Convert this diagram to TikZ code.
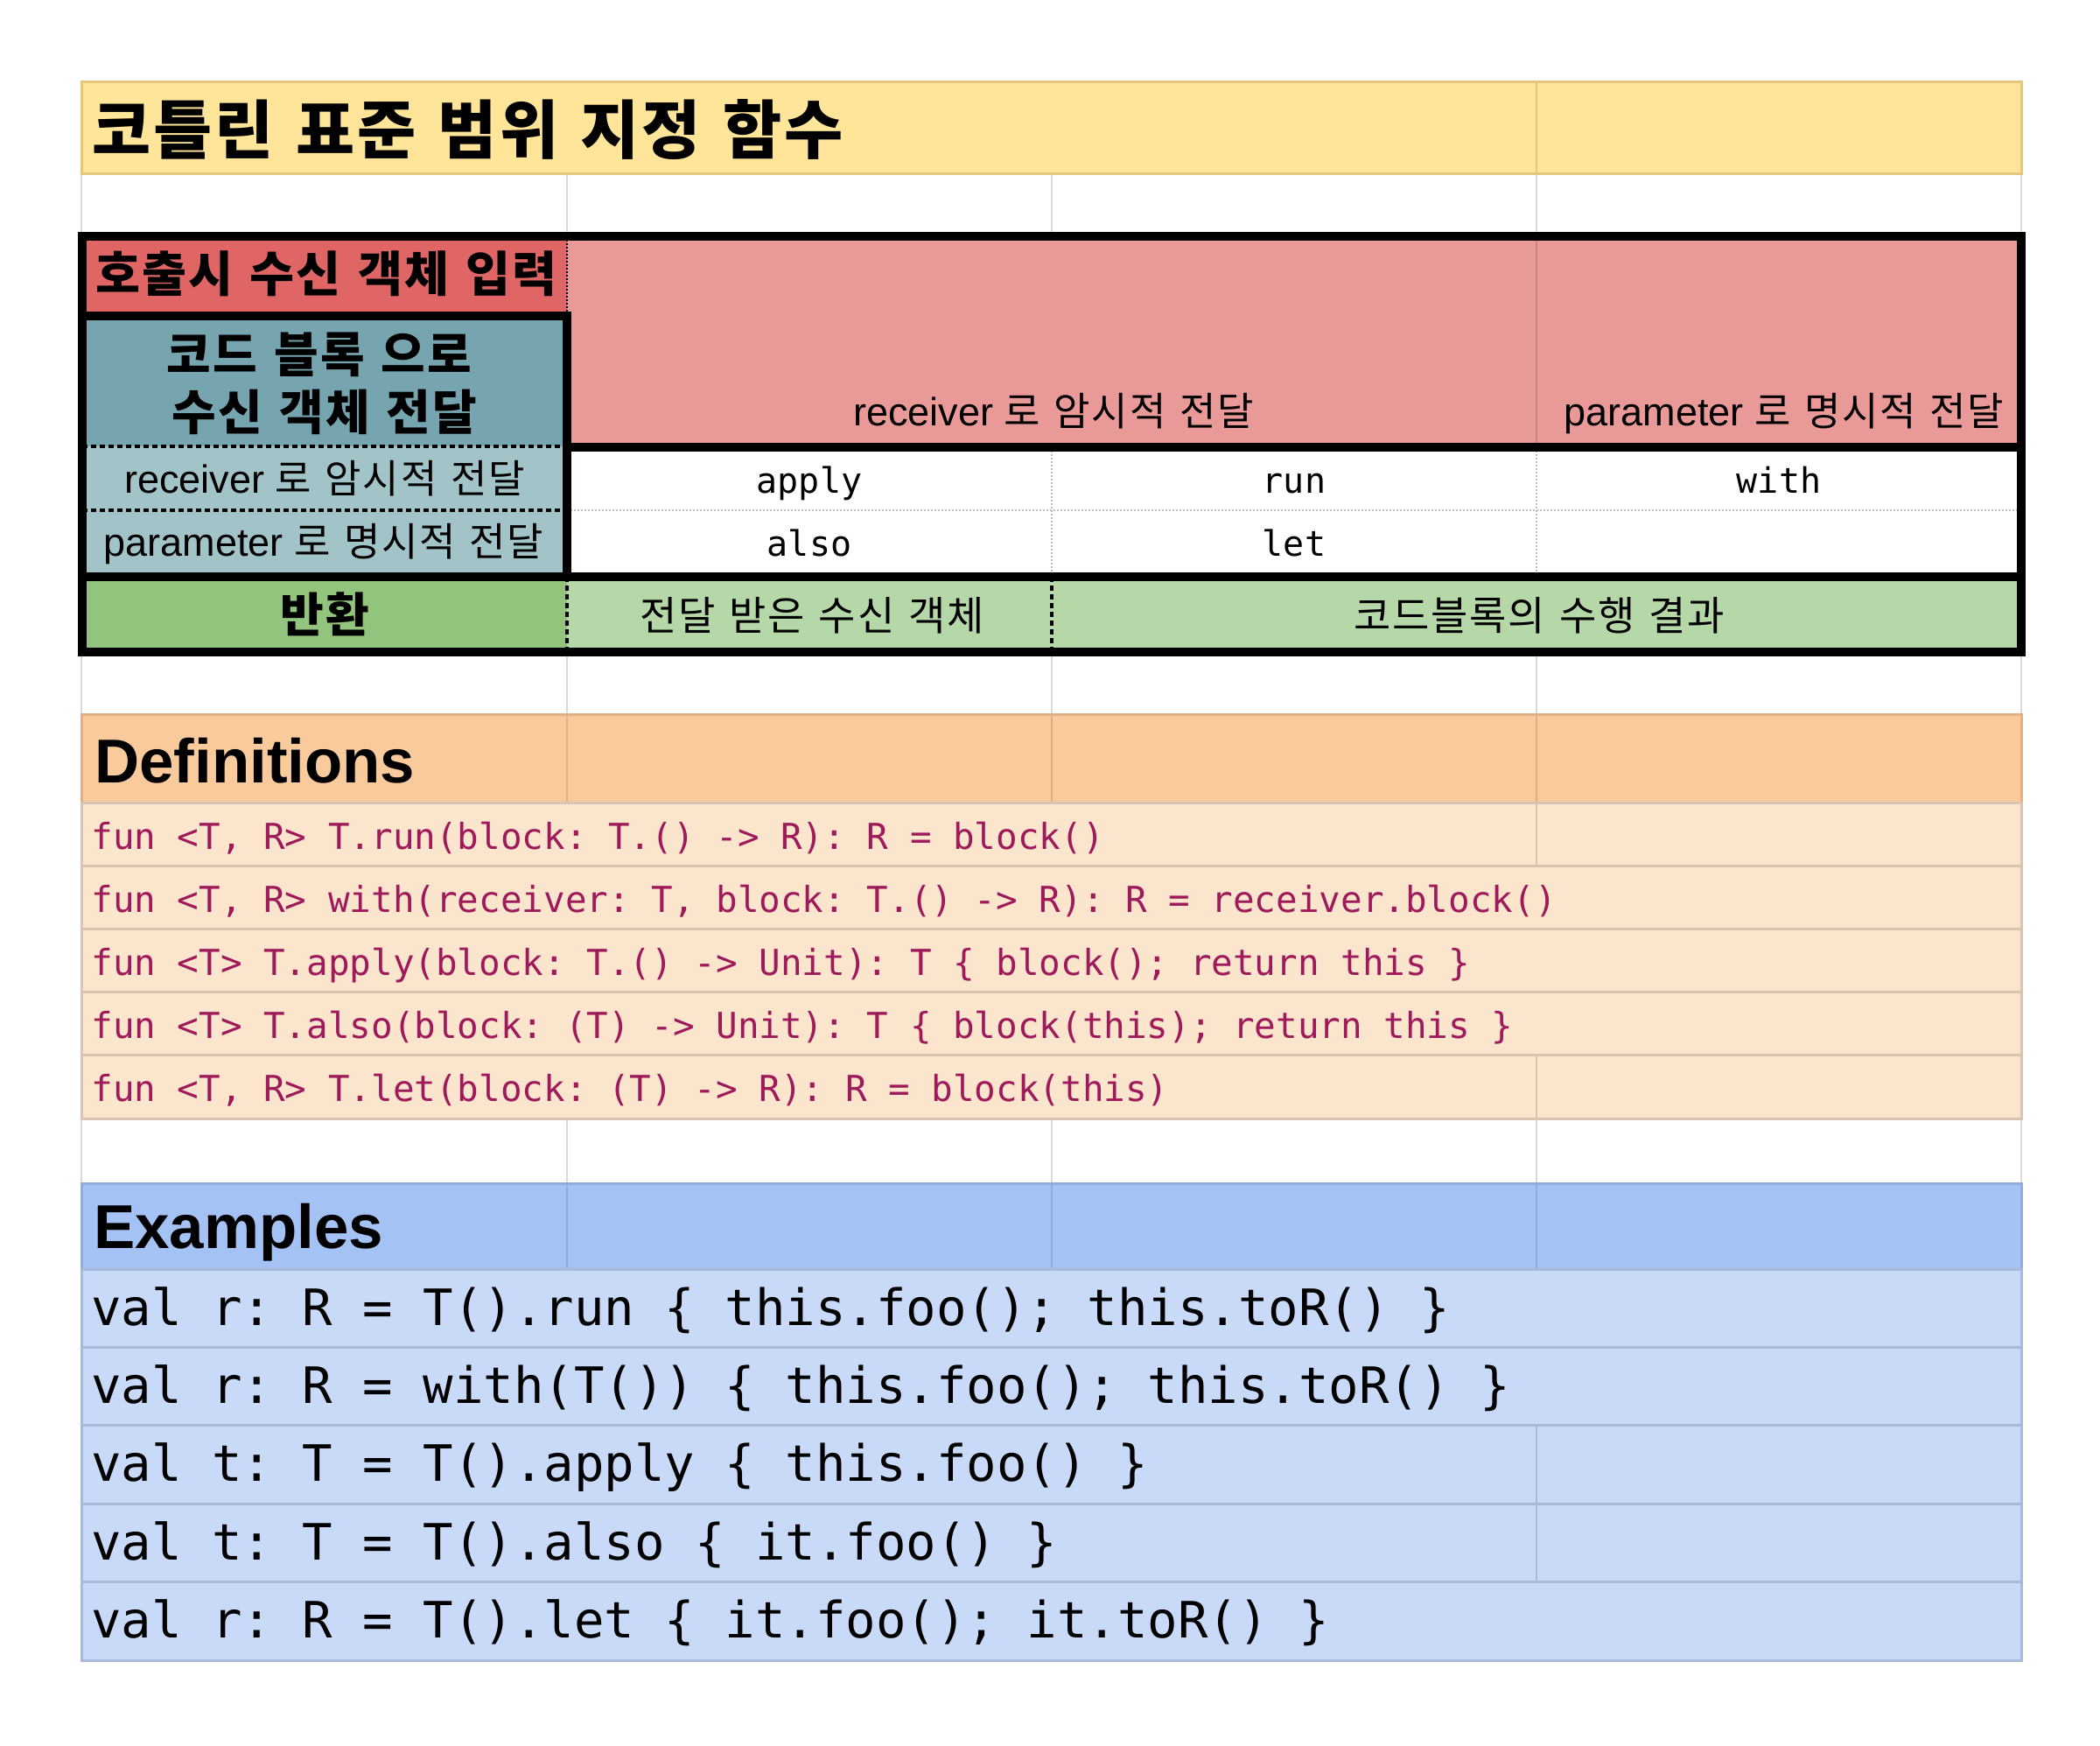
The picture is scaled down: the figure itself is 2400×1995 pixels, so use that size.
\documentclass[tikz,border=0pt]{standalone}
\usepackage{fontspec}
\setmainfont{Liberation Sans}
\setmonofont{DejaVu Sans Mono}
\newfontfamily\kr{Noto Sans CJK KR}[LetterSpace=4,WordSpace=1.3]
\newcommand\fsz[1]{\fontsize{#1}{#1}\selectfont}
\definecolor{titleY}{HTML}{FFE599}
\definecolor{titleB}{HTML}{E5C77C}
\definecolor{redA}{HTML}{E06666}
\definecolor{pinkA}{HTML}{EA9999}
\definecolor{pinkL}{HTML}{C98585}
\definecolor{tealA}{HTML}{76A5AF}
\definecolor{tealB}{HTML}{A2C4C9}
\definecolor{greenA}{HTML}{93C47D}
\definecolor{greenB}{HTML}{B6D7A8}
\definecolor{orangeA}{HTML}{F9CB9C}
\definecolor{orangeB}{HTML}{DFAF86}
\definecolor{orangeC}{HTML}{FCE5CD}
\definecolor{orangeL}{HTML}{D8C4B2}
\definecolor{blueA}{HTML}{A4C2F4}
\definecolor{blueB}{HTML}{8FACDB}
\definecolor{blueC}{HTML}{C9DAF8}
\definecolor{blueL}{HTML}{A9B9D8}
\definecolor{gridgray}{HTML}{DADADA}
\definecolor{dotgray}{HTML}{BDBDBD}
\definecolor{codeRed}{HTML}{9E1A5A}

\begin{document}
\begin{tikzpicture}[x=0.5pt, y=-0.5pt,
  txt/.style={inner sep=0pt, anchor=base},
  ltxt/.style={inner sep=0pt, anchor=base west},
  gridline/.style={gridgray, line width=1pt},
  heavy/.style={black, line width=5pt},
  finedots/.style={black, line width=1pt, dash pattern=on 1pt off 1pt},
  blackdash/.style={black, line width=1.6pt, dash pattern=on 3pt off 2pt},
  graydots/.style={dotgray, line width=1pt, dash pattern=on 1pt off 1pt}]
\fill[white] (0,0) rectangle (2400,1995);

\foreach \ya/\yb in {199/270, 745/816, 1278/1352}
  \foreach \x in {93,648,1202,1756,2310}
    \draw[gridline] (\x,\ya) -- (\x,\yb);

% title
\filldraw[fill=titleY, draw=titleB, line width=1.5pt] (93,94) rectangle (2310,199);
\draw[titleB, line width=1pt] (1756,94) -- (1756,199);
\node[ltxt, font=\kr\bfseries\fsz{36.5}] (title) at (105,176) {코틀린 표준 범위 지정 함수};

% scope table
\fill[redA] (94,270) rectangle (648,361);
\fill[pinkA] (648,270) rectangle (2310,511);
\fill[tealA] (94,361) rectangle (648,510);
\fill[tealB] (94,510) rectangle (648,659);
\fill[white] (648,511) rectangle (2310,659);
\fill[greenA] (94,659) rectangle (648,745);
\fill[greenB] (648,659) rectangle (2310,745);
\draw[pinkL, line width=1pt] (1756,270) -- (1756,511);
\draw[finedots] (648,270) -- (648,361);
\foreach \y in {510,583} \draw[blackdash] (94,\y) -- (648,\y);
\draw[graydots] (648,583) -- (2310,583);
\foreach \x in {1202,1756} \draw[graydots] (\x,511) -- (\x,659);
\foreach \x in {648,1202} \draw[blackdash] (\x,659) -- (\x,745);
\draw[heavy] (94,270) rectangle (2310,745);
\draw[heavy] (94,361) -- (648,361) -- (648,659);
\draw[heavy] (648,511) -- (2310,511);
\draw[heavy] (94,659) -- (2310,659);

\node[txt, font=\kr\bfseries\fsz{27.7}] (input) at (373,334) {호출시 수신 객체 입력};
\node[txt, font=\kr\bfseries\fsz{27.5}] (block1) at (365,426) {코드 블록 으로};
\node[txt, font=\kr\bfseries\fsz{27.5}] (block2) at (371,492) {수신 객체 전달};
\node[txt, font=\fsz{22.5}] (implicitL) at (371,564) {receiver {\kr 로 암시적 전달}};
\node[txt, font=\fsz{22.5}] (explicitL) at (370,635) {parameter {\kr 로 명시적 전달}};
\node[txt, font=\fsz{22.5}] (implicitT) at (1204,487) {receiver {\kr 로 암시적 전달}};
\node[txt, font=\fsz{22.5}] (explicitT) at (2039,487) {parameter {\kr 로 명시적 전달}};
\foreach \n/\x/\y in {apply/925/564, run/1479/564, with/2033/564, also/925/635, let/1479/635}
  \node[txt, font=\ttfamily\fsz{20}] (\n) at (\x,\y) {\n};
\node[txt, font=\kr\bfseries\fsz{27}] (ret) at (371,722) {반환};
\node[txt, font=\kr\fsz{23}] (retobj) at (928,720) {전달 받은 수신 객체};
\node[txt, font=\kr\fsz{23}] (retres) at (1759,720) {코드블록의 수행 결과};

% definitions
\filldraw[fill=orangeA, draw=orangeB, line width=1.5pt] (93,816) rectangle (2310,917);
\foreach \x in {648,1202,1756} \draw[orangeB, line width=1pt] (\x,816) -- (\x,917);
\node[ltxt, font=\bfseries\fsz{35.4}] (defs) at (108,894) {Definitions};
\foreach \t [count=\i, evaluate=\i as \y using 917+72.2*(\i-1)] in {
  {fun <T, R> T.run(block: T.() -> R): R = block()},
  {fun <T, R> with(receiver: T, block: T.() -> R): R = receiver.block()},
  {fun <T> T.apply(block: T.() -> Unit): T \{ block(); return this \}},
  {fun <T> T.also(block: (T) -> Unit): T \{ block(this); return this \}},
  {fun <T, R> T.let(block: (T) -> R): R = block(this)}} {
  \filldraw[fill=orangeC, draw=orangeL, line width=1.5pt] (93,\y) rectangle (2310,\y+72.2);
  \node[ltxt, font=\ttfamily\fsz{20.45}, text=codeRed] (def\i) at (104,\y+53) {\t};
}
\foreach \y in {917,1206} \draw[orangeL, line width=1pt] (1756,\y) -- (1756,\y+72.2);

% examples
\filldraw[fill=blueA, draw=blueB, line width=1.5pt] (93,1352) rectangle (2310,1450);
\foreach \x in {648,1202,1756} \draw[blueB, line width=1pt] (\x,1352) -- (\x,1450);
\node[ltxt, font=\bfseries\fsz{35.4}] (exs) at (107,1426) {Examples};
\foreach \t [count=\i, evaluate=\i as \y using 1450+89.4*(\i-1)] in {
  {val r: R = T().run \{ this.foo(); this.toR() \}},
  {val r: R = with(T()) \{ this.foo(); this.toR() \}},
  {val t: T = T().apply \{ this.foo() \}},
  {val t: T = T().also \{ it.foo() \}},
  {val r: R = T().let \{ it.foo(); it.toR() \}}} {
  \filldraw[fill=blueC, draw=blueL, line width=1.5pt] (93,\y) rectangle (2310,\y+89.4);
  \node[ltxt, font=\ttfamily\fsz{28.65}] (ex\i) at (104,\y+64) {\t};
}
\draw[blueL, line width=1pt] (1756,1628.8) -- (1756,1807.6);
\end{tikzpicture}
\end{document}
